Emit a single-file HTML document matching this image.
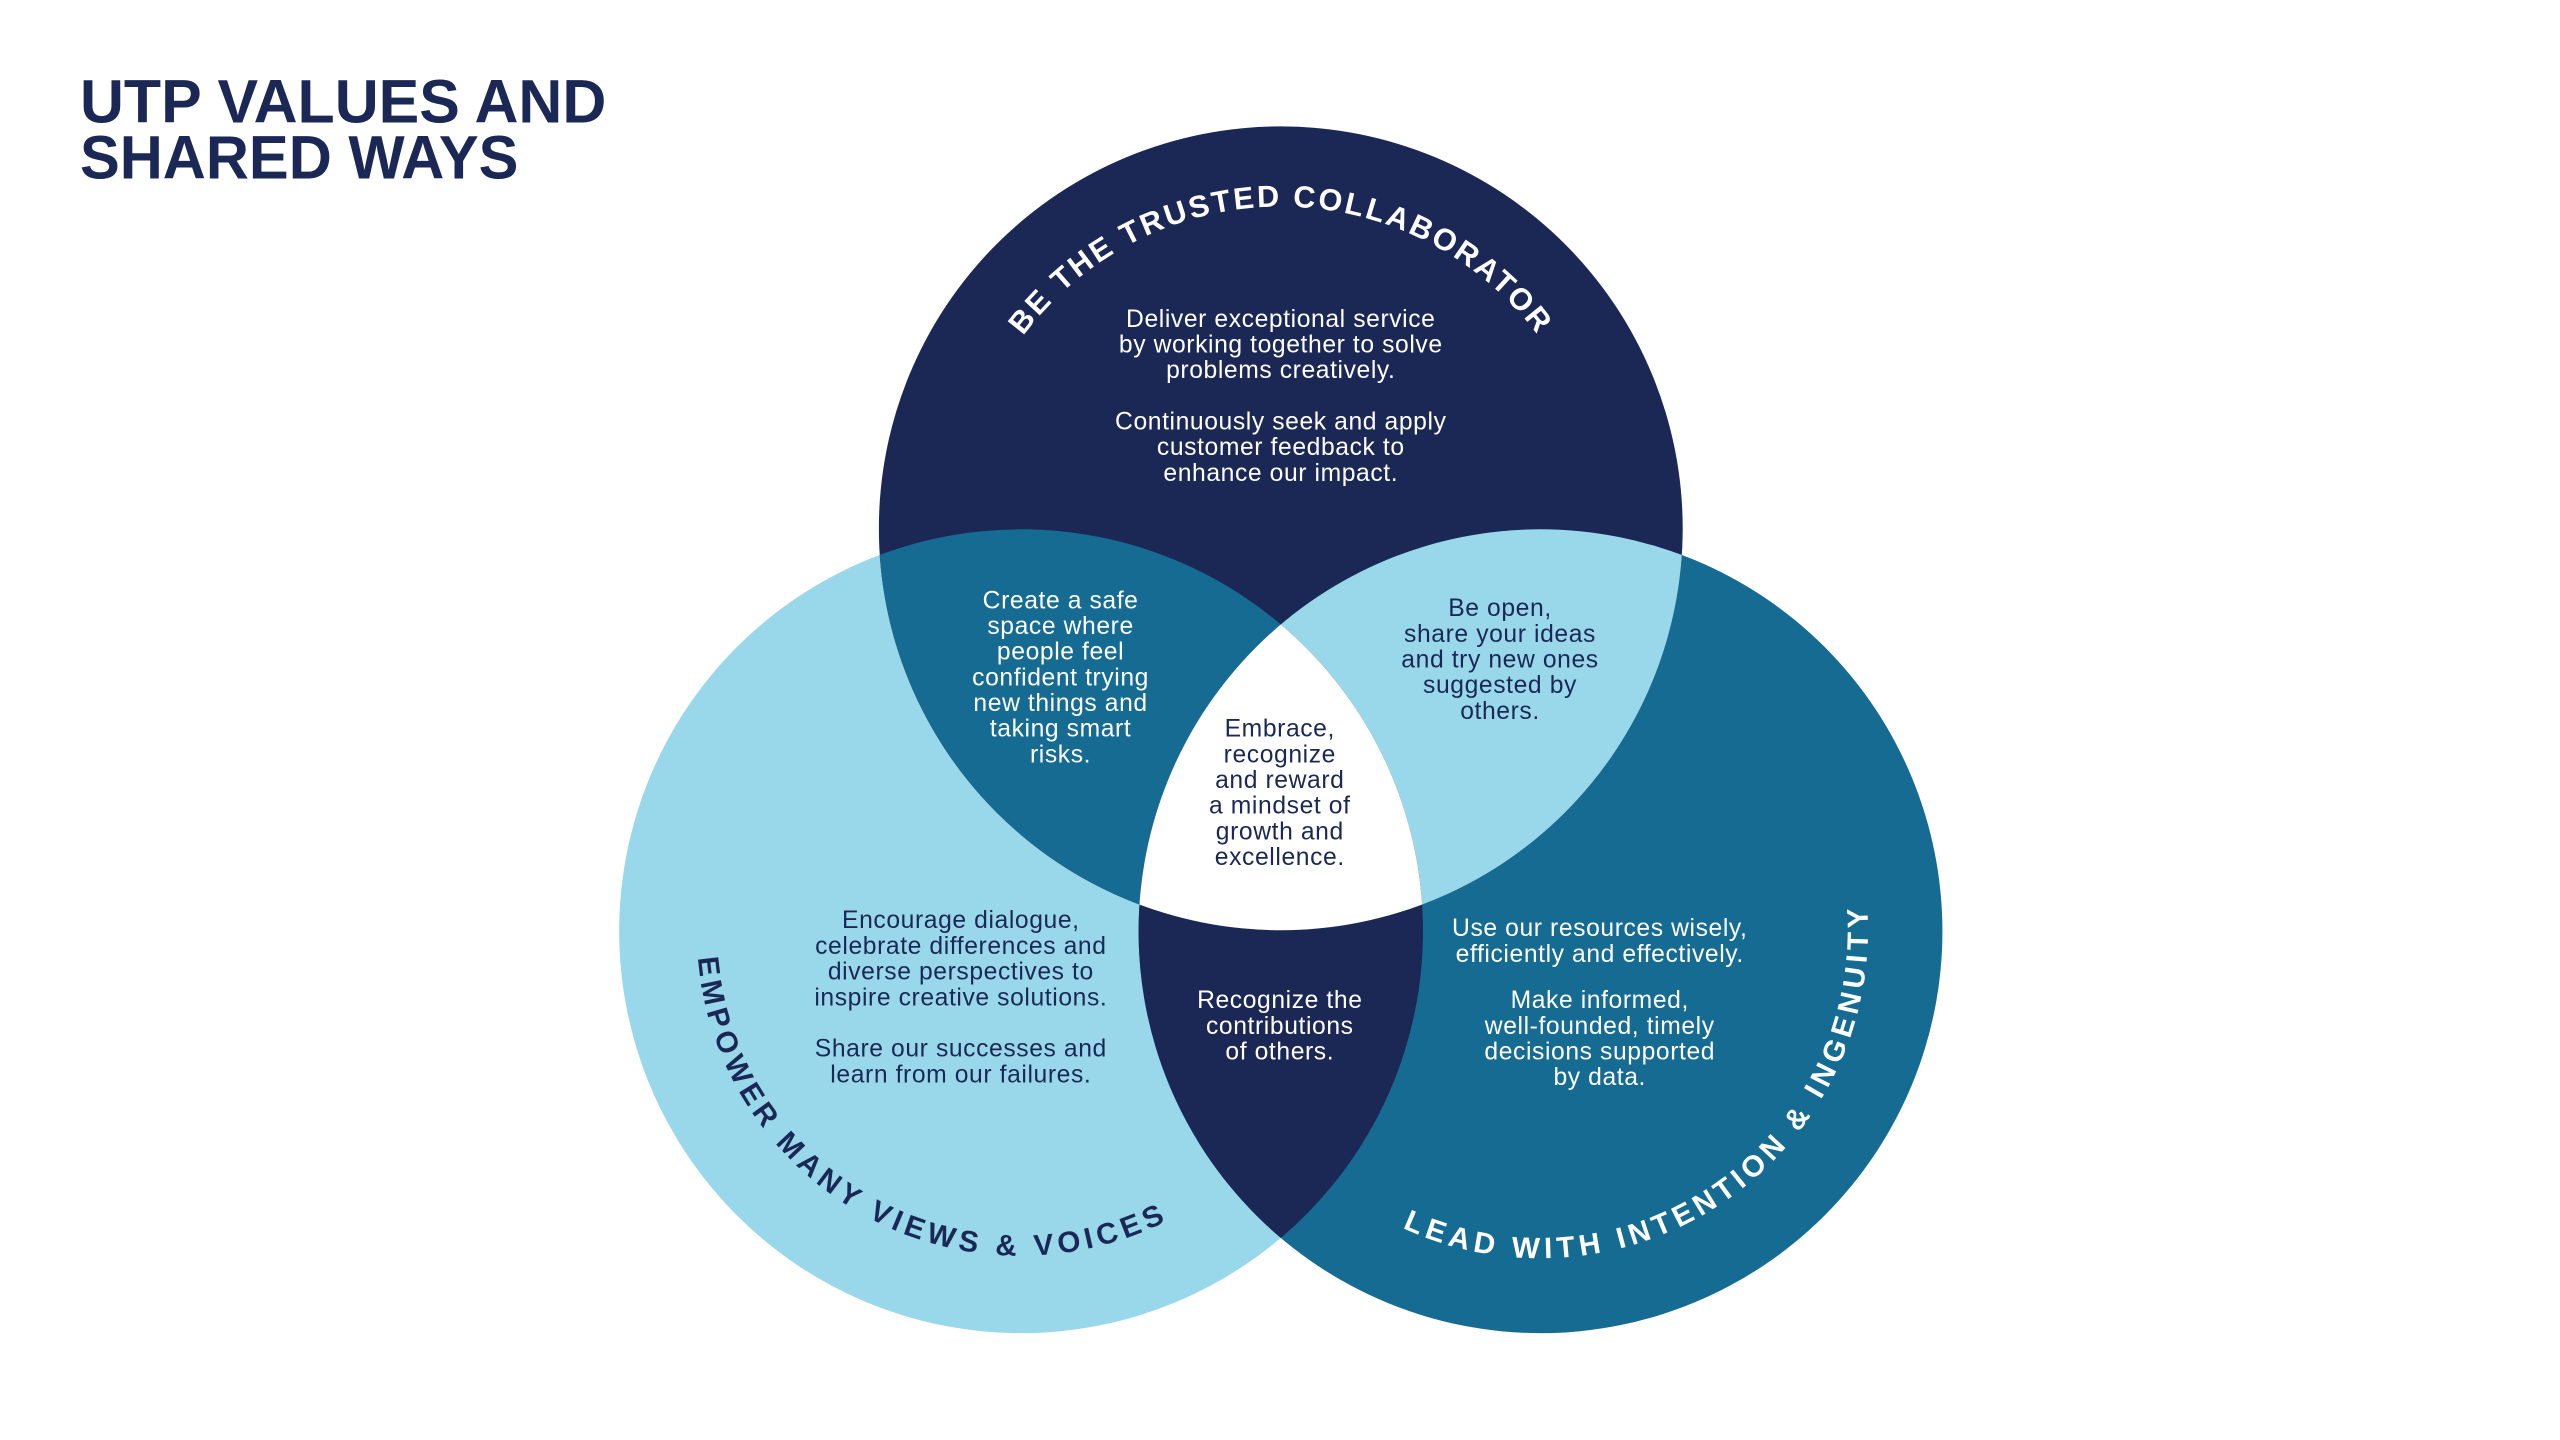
<!DOCTYPE html>
<html><head><meta charset="utf-8"><style>
html,body{margin:0;padding:0;background:#fff;}
svg{display:block;}
text{font-family:"Liberation Sans",sans-serif;}
.b{font-size:25px;text-anchor:middle;letter-spacing:0.6px;}
.w{fill:#fff;}
.n{fill:#1b2855;}
.arc{font-size:30px;font-weight:bold;letter-spacing:5px;}
</style></head><body>
<svg width="2560" height="1440" viewBox="0 0 2560 1440" xmlns="http://www.w3.org/2000/svg">
<defs>
<clipPath id="cT"><circle cx="1297" cy="535" r="407"/></clipPath>
<clipPath id="cL"><circle cx="1034" cy="943" r="407"/></clipPath>
<clipPath id="cR"><circle cx="1560" cy="943" r="407"/></clipPath>
<path id="pT" d="M 977 591 A 325 325 0 1 1 1617 591"/>
<path id="pL" d="M 779 737 A 328 328 0 1 0 1344 1050"/>
<path id="pR" d="M 1259 1083 A 332 332 0 1 0 1795 708"/>
</defs>
<g transform="scale(0.9875)">
<text x="81" y="124" font-size="62" font-weight="bold" fill="#1b2855" textLength="533" lengthAdjust="spacingAndGlyphs">UTP VALUES AND</text>
<text x="81" y="181" font-size="62" font-weight="bold" fill="#1b2855" textLength="444" lengthAdjust="spacingAndGlyphs">SHARED WAYS</text>

<circle cx="1034" cy="943" r="407" fill="#99d8ea"/>
<circle cx="1560" cy="943" r="407" fill="#156b91"/>
<circle cx="1297" cy="535" r="407" fill="#1b2855"/>
<circle cx="1034" cy="943" r="407" fill="#156b91" clip-path="url(#cT)"/>
<circle cx="1560" cy="943" r="407" fill="#99d8ea" clip-path="url(#cT)"/>
<circle cx="1560" cy="943" r="407" fill="#1b2855" clip-path="url(#cL)"/>
<g clip-path="url(#cL)"><circle cx="1560" cy="943" r="407" fill="#fff" clip-path="url(#cT)"/></g>

<text class="arc w" style="font-size:31px;letter-spacing:2.5px"><textPath href="#pT" startOffset="50%" text-anchor="middle">BE THE TRUSTED COLLABORATOR</textPath></text>
<text class="arc n"><textPath href="#pL" startOffset="50%" text-anchor="middle">EMPOWER MANY VIEWS &amp; VOICES</textPath></text>
<text class="arc w"><textPath href="#pR" startOffset="50%" text-anchor="middle">LEAD WITH INTENTION &amp; INGENUITY</textPath></text>

<text class="b w" x="1297" y="331"><tspan x="1297">Deliver exceptional service</tspan><tspan x="1297" dy="26">by working together to solve</tspan><tspan x="1297" dy="26">problems creatively.</tspan><tspan x="1297" dy="52">Continuously seek and apply</tspan><tspan x="1297" dy="26">customer feedback to</tspan><tspan x="1297" dy="26">enhance our impact.</tspan></text>

<text class="b w" x="1074" y="616"><tspan x="1074">Create a safe</tspan><tspan x="1074" dy="26">space where</tspan><tspan x="1074" dy="26">people feel</tspan><tspan x="1074" dy="26">confident trying</tspan><tspan x="1074" dy="26">new things and</tspan><tspan x="1074" dy="26">taking smart</tspan><tspan x="1074" dy="26">risks.</tspan></text>

<text class="b n" x="1519" y="624"><tspan x="1519">Be open,</tspan><tspan x="1519" dy="26">share your ideas</tspan><tspan x="1519" dy="26">and try new ones</tspan><tspan x="1519" dy="26">suggested by</tspan><tspan x="1519" dy="26">others.</tspan></text>

<text class="b n" x="1296" y="746"><tspan x="1296">Embrace,</tspan><tspan x="1296" dy="26">recognize</tspan><tspan x="1296" dy="26">and reward</tspan><tspan x="1296" dy="26">a mindset of</tspan><tspan x="1296" dy="26">growth and</tspan><tspan x="1296" dy="26">excellence.</tspan></text>

<text class="b n" x="973" y="940"><tspan x="973">Encourage dialogue,</tspan><tspan x="973" dy="26">celebrate differences and</tspan><tspan x="973" dy="26">diverse perspectives to</tspan><tspan x="973" dy="26">inspire creative solutions.</tspan><tspan x="973" dy="52">Share our successes and</tspan><tspan x="973" dy="26">learn from our failures.</tspan></text>

<text class="b w" x="1296" y="1021"><tspan x="1296">Recognize the</tspan><tspan x="1296" dy="26">contributions</tspan><tspan x="1296" dy="26">of others.</tspan></text>

<text class="b w" x="1620" y="948"><tspan x="1620">Use our resources wisely,</tspan><tspan x="1620" dy="26">efficiently and effectively.</tspan><tspan x="1620" dy="47">Make informed,</tspan><tspan x="1620" dy="26">well-founded, timely</tspan><tspan x="1620" dy="26">decisions supported</tspan><tspan x="1620" dy="26">by data.</tspan></text>
</g>
</svg>
</body></html>
